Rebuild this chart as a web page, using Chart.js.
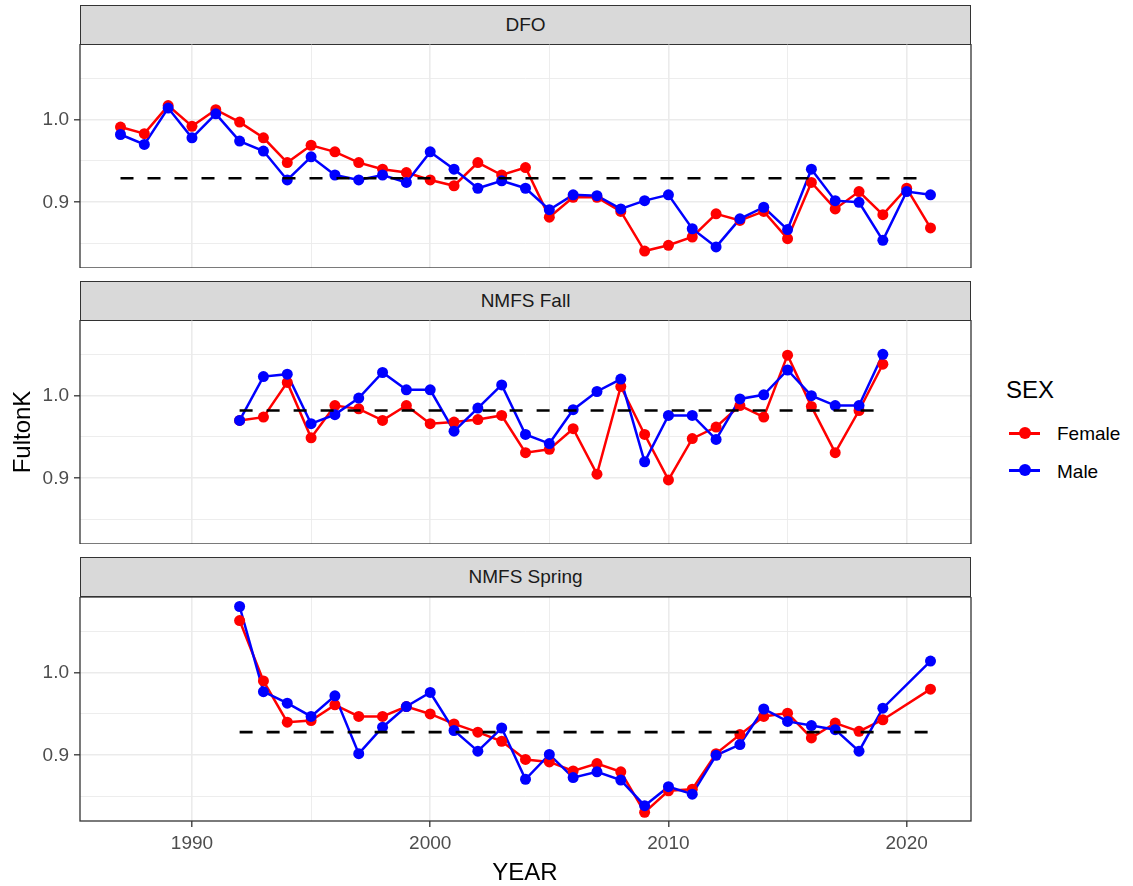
<!DOCTYPE html>
<html>
<head>
<meta charset="utf-8">
<script src="https://cdn.jsdelivr.net/npm/chart.js@4.4.1/dist/chart.umd.min.js"></script>
<style>
  body { margin: 0; background: #fff; font-family: "Liberation Sans", Arial, sans-serif; }
  #page { position: relative; width: 1133px; height: 886px; overflow: hidden; }
  canvas { position: absolute; left: 0; }
  .strip {
    position: absolute; left: 80px; width: 891px; height: 40px;
    background: #d9d9d9; border: 1.3px solid #333; box-sizing: border-box;
    font-size: 19px; line-height: 38px; text-align: center; color: #1a1a1a;
  }
  .txt { position: absolute; white-space: nowrap; color: #000; }
  .key { position: absolute; left: 1009px; width: 31px; height: 2.5px; }
  .dot { position: absolute; left: 1019px; width: 12px; height: 12px; border-radius: 50%; }
</style>
</head>
<body>
<div id="page">
  <div class="strip" style="top:5px">DFO</div>
  <div class="strip" style="top:281px">NMFS Fall</div>
  <div class="strip" style="top:557px">NMFS Spring</div>

  <canvas id="dfo" width="975" height="224" style="top:44px"></canvas>
  <canvas id="fall" width="975" height="224" style="top:320px"></canvas>
  <canvas id="spring" width="975" height="266" style="top:597px"></canvas>

  <div class="txt" style="left:0; width:1050px; text-align:center; top:860px; font-size:24px; line-height:24px">YEAR</div>
  <div class="txt" style="left:-28px; top:420px; width:100px; text-align:center; font-size:24px; line-height:24px; transform:rotate(-90deg)">FultonK</div>

  <div class="txt" style="left:1006px; top:378px; font-size:24px; line-height:24px">SEX</div>
  <div class="key" style="top:432px; background:#ff0000"></div>
  <div class="dot" style="top:427px; background:#ff0000"></div>
  <div class="txt" style="left:1057px; top:424px; font-size:19px; line-height:19px">Female</div>
  <div class="key" style="top:469px; background:#0000ff"></div>
  <div class="dot" style="top:464px; background:#0000ff"></div>
  <div class="txt" style="left:1057px; top:462px; font-size:19px; line-height:19px">Male</div>
</div>

<script>
// Fulton's condition factor by year, sex and survey
const dfoYears = [1987, 1988, 1989, 1990, 1991, 1992, 1993, 1994, 1995, 1996, 1997, 1998,
  1999, 2000, 2001, 2002, 2003, 2004, 2005, 2006, 2007, 2008, 2009, 2010, 2011, 2012,
  2013, 2014, 2015, 2016, 2017, 2018, 2019, 2020, 2021];
const dfoFemale = [0.991, 0.983, 1.017, 0.992, 1.012, 0.997, 0.978, 0.948, 0.969, 0.961,
  0.948, 0.940, 0.936, 0.927, 0.920, 0.948, 0.933, 0.942, 0.882, 0.906, 0.906, 0.889,
  0.841, 0.848, 0.858, 0.886, 0.878, 0.889, 0.856, 0.924, 0.892, 0.913, 0.885, 0.917, 0.869];
const dfoMale = [0.982, 0.970, 1.014, 0.978, 1.007, 0.974, 0.962, 0.927, 0.955, 0.933,
  0.927, 0.933, 0.924, 0.961, 0.940, 0.917, 0.926, 0.917, 0.891, 0.909, 0.908, 0.892,
  0.902, 0.909, 0.868, 0.846, 0.880, 0.894, 0.867, 0.940, 0.902, 0.900, 0.854, 0.913, 0.909];
const dfoMean = 0.929;

const fallYears = [1992, 1993, 1994, 1995, 1996, 1997, 1998, 1999, 2000, 2001, 2002, 2003,
  2004, 2005, 2006, 2007, 2008, 2009, 2010, 2011, 2012, 2013, 2014, 2015, 2016, 2017,
  2018, 2019];
const fallFemale = [0.970, 0.974, 1.016, 0.949, 0.988, 0.984, 0.970, 0.988, 0.966, 0.968,
  0.971, 0.976, 0.931, 0.935, 0.960, 0.905, 1.011, 0.953, 0.898, 0.948, 0.962, 0.988,
  0.974, 1.049, 0.987, 0.931, 0.982, 1.038];
const fallMale = [0.970, 1.023, 1.026, 0.966, 0.977, 0.997, 1.028, 1.007, 1.007, 0.957,
  0.985, 1.013, 0.953, 0.942, 0.983, 1.005, 1.020, 0.920, 0.976, 0.976, 0.947, 0.996,
  1.001, 1.031, 1.000, 0.988, 0.988, 1.050];
const fallMean = 0.982;

const springYears = [1992, 1993, 1994, 1995, 1996, 1997, 1998, 1999, 2000, 2001, 2002,
  2003, 2004, 2005, 2006, 2007, 2008, 2009, 2010, 2011, 2012, 2013, 2014, 2015, 2016,
  2017, 2018, 2019, 2021];
const springFemale = [1.063, 0.990, 0.940, 0.942, 0.961, 0.947, 0.947, 0.959, 0.950, 0.938,
  0.928, 0.917, 0.895, 0.892, 0.881, 0.890, 0.880, 0.831, 0.857, 0.859, 0.902, 0.925,
  0.947, 0.951, 0.921, 0.939, 0.929, 0.943, 0.980];
const springMale = [1.080, 0.977, 0.963, 0.947, 0.972, 0.902, 0.934, 0.959, 0.976, 0.930,
  0.905, 0.933, 0.871, 0.901, 0.873, 0.880, 0.870, 0.839, 0.862, 0.853, 0.900, 0.913,
  0.956, 0.941, 0.936, 0.931, 0.905, 0.957, 1.014];
const springMean = 0.928;

const xTicks = [1990, 1995, 2000, 2005, 2010, 2015, 2020];
const yTicks = [0.85, 0.90, 0.95, 1.00, 1.05];

const RED = '#ff0000';
const BLUE = '#0000ff';
const FONT = '"Liberation Sans", Arial, sans-serif';

const isMajorX = v => v % 10 === 0;
const isMajorY = v => Math.abs(v * 10 - Math.round(v * 10)) < 1e-6;

function pts(years, vals) {
  return years.map((yr, i) => ({ x: yr, y: vals[i] }));
}

// panel frame drawn on top of everything
const panelBorder = {
  id: 'panelBorder',
  afterDraw(chart) {
    const { ctx, chartArea: a } = chart;
    ctx.save();
    ctx.strokeStyle = '#333333';
    ctx.lineWidth = 1.3;
    ctx.strokeRect(a.left, a.top, a.right - a.left, a.bottom - a.top);
    ctx.restore();
  }
};

function makePanel(id, years, female, male, mean, showX) {
  const meanLine = [{ x: years[0], y: mean }, { x: years[years.length - 1], y: mean }];
  new Chart(document.getElementById(id), {
    type: 'line',
    data: {
      datasets: [
        { data: meanLine, borderColor: '#000', borderWidth: 2.6, borderDash: [13, 14],
          pointRadius: 0, order: 0 },
        { data: pts(years, male), showLine: false, pointRadius: 5.5, pointBackgroundColor: BLUE,
          pointBorderColor: BLUE, pointBorderWidth: 0, order: 1 },
        { data: pts(years, female), showLine: false, pointRadius: 5.5, pointBackgroundColor: RED,
          pointBorderColor: RED, pointBorderWidth: 0, order: 2 },
        { data: pts(years, male), borderColor: BLUE, borderWidth: 2.5, pointRadius: 0, order: 3 },
        { data: pts(years, female), borderColor: RED, borderWidth: 2.5, pointRadius: 0, order: 4 }
      ]
    },
    options: {
      responsive: false,
      animation: false,
      layout: { autoPadding: false, padding: { left: 0, right: 4, top: 0, bottom: 0 } },
      plugins: { legend: { display: false }, tooltip: { enabled: false } },
      scales: {
        x: {
          type: 'linear',
          min: 1985.3,
          max: 2022.7,
          afterBuildTicks: s => { s.ticks = xTicks.map(v => ({ value: v })); },
          afterFit: s => {
            s.height = showX ? 42 : 0;
            s.paddingLeft = 0;
            s.paddingRight = 0;
          },
          border: { display: false },
          grid: {
            color: '#ebebeb',
            lineWidth: c => isMajorX(c.tick.value) ? 1.6 : 0.9,
            drawTicks: showX,
            tickLength: 6,
            tickWidth: 1.3,
            tickColor: c => isMajorX(c.tick.value) ? '#333333' : 'rgba(0,0,0,0)'
          },
          ticks: {
            display: showX,
            padding: 5,
            color: '#4d4d4d',
            font: { family: FONT, size: 19 },
            maxRotation: 0,
            autoSkip: false,
            callback: v => isMajorX(v) ? String(v) : ''
          }
        },
        y: {
          min: 0.8205,
          max: 1.0915,
          afterBuildTicks: s => { s.ticks = yTicks.map(v => ({ value: v })); },
          afterFit: s => {
            s.width = 80;
            s.paddingTop = 0;
            s.paddingBottom = 0;
          },
          border: { display: false },
          grid: {
            color: '#ebebeb',
            lineWidth: c => isMajorY(c.tick.value) ? 1.6 : 0.9,
            tickLength: 6,
            tickWidth: 1.3,
            tickColor: c => isMajorY(c.tick.value) ? '#333333' : 'rgba(0,0,0,0)'
          },
          ticks: {
            padding: 5,
            color: '#4d4d4d',
            font: { family: FONT, size: 19 },
            autoSkip: false,
            callback: v => isMajorY(v) ? v.toFixed(1) : ''
          }
        }
      }
    },
    plugins: [panelBorder]
  });
}

makePanel('dfo', dfoYears, dfoFemale, dfoMale, dfoMean, false);
makePanel('fall', fallYears, fallFemale, fallMale, fallMean, false);
makePanel('spring', springYears, springFemale, springMale, springMean, true);
</script>
</body>
</html>
